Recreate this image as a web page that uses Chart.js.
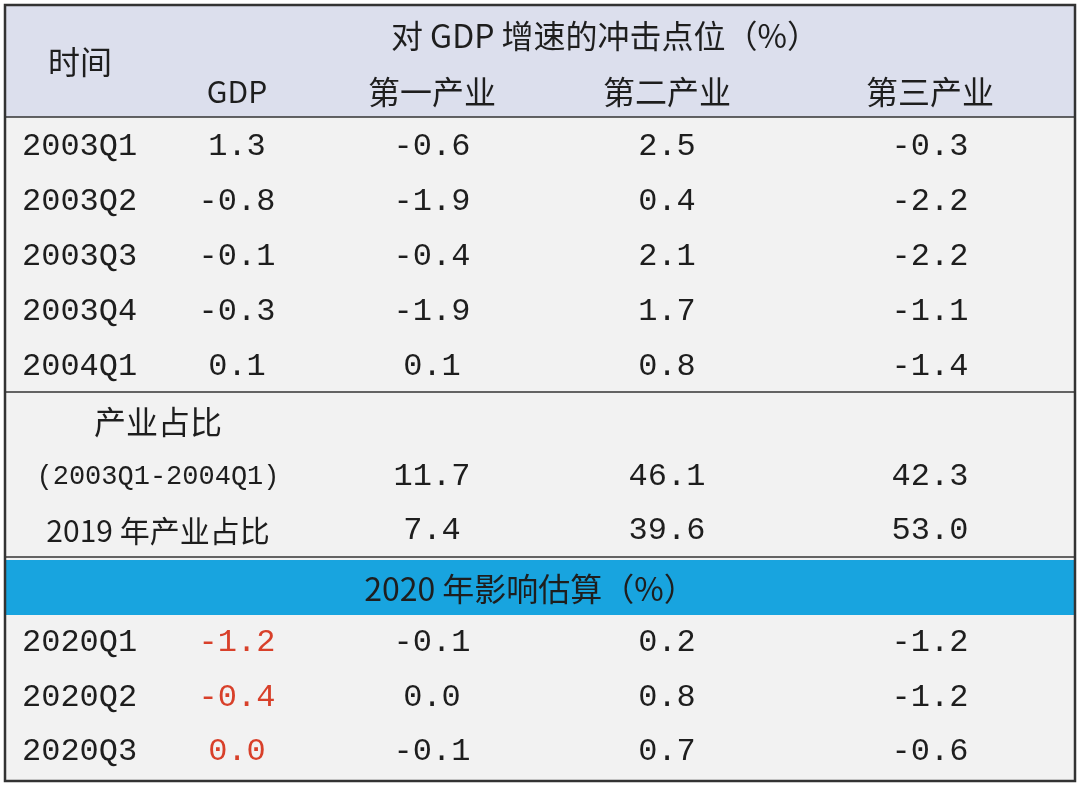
<!DOCTYPE html>
<html><head><meta charset="utf-8">
<script src="https://cdn.jsdelivr.net/npm/chart.js@4.4.0/dist/chart.umd.min.js"></script>
<style>html,body{margin:0;padding:0;background:#fff}#wrap{width:1080px;height:786px}</style>
</head><body><div id="wrap"><canvas id="myChart"></canvas></div>
<script>
// table data
const periods = ['2003Q1','2003Q2','2003Q3','2003Q4','2004Q1']
const gdp = ['1.3','-0.8','-0.1','-0.3','0.1']
const primary = ['-0.6','-1.9','-0.4','-1.9','0.1']
const secondary = ['2.5','0.4','2.1','1.7','0.8']
const tertiary = ['-0.3','-2.2','-2.2','-1.1','-1.4']
const shareLabels = ['(2003Q1-2004Q1)','2019 年产业占比']
const sharePrimary = ['11.7','7.4']
const shareSecondary = ['46.1','39.6']
const shareTertiary = ['42.3','53.0']
const periods2020 = ['2020Q1','2020Q2','2020Q3']
const gdp2020 = ['-1.2','-0.4','0.0']
const primary2020 = ['-0.1','0.0','-0.1']
const secondary2020 = ['0.2','0.8','0.7']
const tertiary2020 = ['-1.2','-1.2','-0.6']
const headers = ['GDP','第一产业','第二产业','第三产业']

const colX = [237,432,667,930]
const mono = '32px "Liberation Mono", "DejaVu Sans Mono", monospace'
const cjk = '32px "Noto Sans CJK SC", sans-serif'

const tablePlugin = {
	id:'table',
	beforeDatasetsDraw(chart){
		const c = chart.ctx, x = chart.scales.x, y = chart.scales.y
		const px = v => x.getPixelForValue(v), py = v => y.getPixelForValue(v)
		function rect(x0,y0,x1,y1,col){ c.fillStyle=col; c.fillRect(px(x0),py(y0),px(x1)-px(x0),py(y1)-py(y0)) }
		function line(y0){ c.beginPath(); c.moveTo(px(6),py(y0)); c.lineTo(px(1074),py(y0)); c.stroke() }
		function txt(s,xv,yv,font,align,col){ c.font=font; c.textAlign=align||'center'; c.textBaseline='middle'; c.fillStyle=col||'#1e1e1e'; c.fillText(s,px(xv),py(yv)) }
		rect(5,5,1075,781,'#f2f2f2')
		rect(5,5,1075,117,'#dcdfed')
		rect(5,560,1075,615,'#18a4df')
		c.strokeStyle='#333'; c.lineWidth=1.5
		line(117); line(392); line(557)
		c.lineWidth=2.5; c.strokeRect(px(5),py(5),px(1075)-px(5),py(781)-py(5))
		txt('对 GDP 增速的冲击点位（%）',605,36,cjk)
		txt('时间',80,62,cjk)
		headers.forEach((h,i)=>txt(h,colX[i],92,i==0?'30px "Noto Sans CJK SC", sans-serif':cjk))
		periods.forEach((p,r)=>{
			const yy = 147+r*54.8
			txt(p,22,yy,mono,'left')
			txt(gdp[r],colX[0],yy,mono)
			txt(primary[r],colX[1],yy,mono)
			txt(secondary[r],colX[2],yy,mono)
			txt(tertiary[r],colX[3],yy,mono)
		})
		txt('产业占比',158,422,cjk)
		shareLabels.forEach((s,r)=>{
			const yy = 477+r*54
			txt(s,158,yy,r==0?'27px "Liberation Mono", monospace':'30px "Noto Sans CJK SC", sans-serif')
			txt(sharePrimary[r],colX[1],yy,mono)
			txt(shareSecondary[r],colX[2],yy,mono)
			txt(shareTertiary[r],colX[3],yy,mono)
		})
		txt('2020 年影响估算（%）',530,589,cjk)
		periods2020.forEach((p,r)=>{
			const yy = 643+r*54.5
			txt(p,22,yy,mono,'left')
			txt(gdp2020[r],colX[0],yy,mono,'center','#d8402a')
			txt(primary2020[r],colX[1],yy,mono)
			txt(secondary2020[r],colX[2],yy,mono)
			txt(tertiary2020[r],colX[3],yy,mono)
		})
	}
}

new Chart(document.getElementById('myChart').getContext('2d'),{
	type:'scatter',
	data:{datasets:[{data:[],pointRadius:0}]},
	options:{
		responsive:true, maintainAspectRatio:false, animation:false,
		layout:{padding:0},
		plugins:{legend:{display:false},tooltip:{enabled:false}},
		scales:{
			x:{type:'linear',min:0,max:1080,display:false},
			y:{type:'linear',min:0,max:786,reverse:true,display:false}
		}
	},
	plugins:[tablePlugin]
})
</script></body></html>
